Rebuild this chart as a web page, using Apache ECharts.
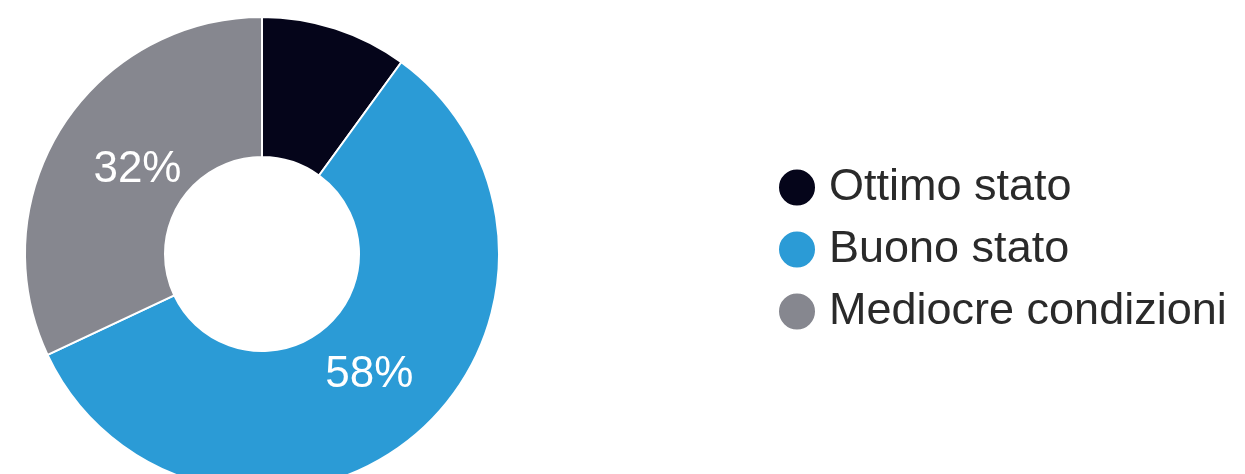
<!DOCTYPE html>
<html>
<head>
<meta charset="utf-8">
<script src="https://cdn.jsdelivr.net/npm/echarts@6/dist/echarts.min.js"></script>
<style>
  html, body { margin: 0; padding: 0; background: #ffffff; }
  #chart { width: 1245px; height: 474px; }
</style>
</head>
<body>
<div id="chart"></div>
<script>
// Condition shares (percent)
const categories = ['Ottimo stato', 'Buono stato', 'Mediocre condizioni'];
const shares = [10, 58, 32];
const palette = ['#05051a', '#2b9bd6', '#86878f'];
// Slices whose percentage is printed on the ring
const labelled = [false, true, true];
// Nudges applied to the printed percentages
const labelShift = [[0, 0], [-1, -10], [19, 7]];

const chart = echarts.init(document.getElementById('chart'), null, { renderer: 'canvas' });

const data = categories.map((name, i) => ({
  name: name,
  value: shares[i],
  itemStyle: { color: palette[i] },
  label: { show: labelled[i], offset: labelShift[i] }
}));

chart.setOption({
  animation: false,
  backgroundColor: '#ffffff',
  legend: {
    orient: 'vertical',
    left: 777,
    top: 165,
    padding: 0,
    icon: 'circle',
    itemWidth: 38,
    itemHeight: 38,
    itemGap: 17,
    data: categories,
    textStyle: {
      fontFamily: 'Liberation Sans, Arial, sans-serif',
      fontSize: 45,
      color: '#2a2a2a',
      padding: [0, 0, 0, 8]
    }
  },
  series: [{
    type: 'pie',
    center: [262, 254],
    radius: [97, 237],
    startAngle: 90,
    clockwise: true,
    avoidLabelOverlap: false,
    itemStyle: { borderColor: '#ffffff', borderWidth: 2 },
    label: {
      position: 'inside',
      formatter: '{c}%',
      color: '#ffffff',
      fontFamily: 'Liberation Sans, Arial, sans-serif',
      fontSize: 44
    },
    labelLine: { show: false },
    emphasis: { disabled: true },
    data: data
  }]
});
</script>
</body>
</html>
